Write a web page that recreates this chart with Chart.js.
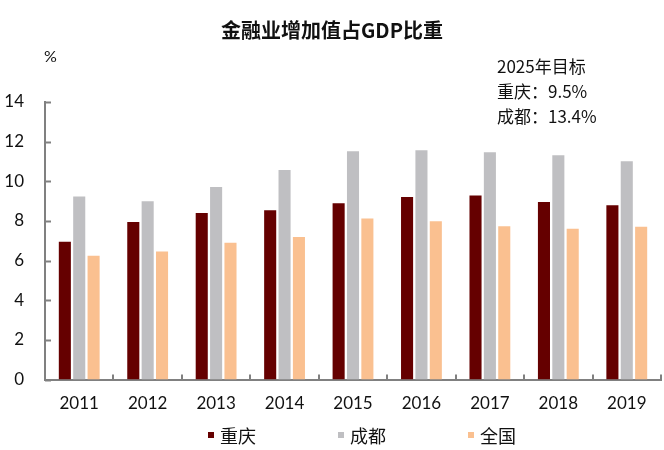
<!DOCTYPE html>
<html>
<head>
<meta charset="utf-8">
<script src="https://cdn.jsdelivr.net/npm/chart.js@4/dist/chart.umd.min.js"></script>
<style>
  html, body { margin: 0; padding: 0; background: #fff; }
  #wrap { width: 664px; height: 450px; }
</style>
</head>
<body>
<div id="wrap"><canvas id="tableau"></canvas></div>
<script>
const years = ['2011', '2012', '2013', '2014', '2015', '2016', '2017', '2018', '2019'];
const chongqing = [6.95, 7.95, 8.4, 8.54, 8.89, 9.21, 9.28, 8.96, 8.79];
const chengdu = [9.24, 9.0, 9.71, 10.57, 11.52, 11.57, 11.46, 11.31, 11.01];
const national = [6.25, 6.46, 6.9, 7.19, 8.12, 7.98, 7.73, 7.61, 7.71];
const seriesNames = ['重庆', '成都', '全国'];
const targetNotes = ['2025年目标', '重庆：9.5%', '成都：13.4%'];
const yMax = 14;
const yStep = 2;

const colors = ['#650000', '#BFBFC2', '#FAC090'];
const numFont = 'Lato, "Liberation Sans", sans-serif';
const cjkFont = '"Noto Sans CJK SC", sans-serif';

// ticks inside the axes, title, notes and legend
const extras = {
    id: 'extras',
    afterDraw(chart) {
        const ctx = chart.ctx;
        const x = chart.scales.x;
        const y = chart.scales.y;
        const area = chart.chartArea;
        ctx.save();
        ctx.strokeStyle = '#808080';
        ctx.lineWidth = 2;
        y.ticks.forEach(t => {
            const py = Math.round(y.getPixelForValue(t.value)) + 0.5;
            ctx.beginPath();
            ctx.moveTo(area.left, py);
            ctx.lineTo(area.left + 6, py);
            ctx.stroke();
        });
        const cw = (x.right - x.left) / years.length;
        for (let i = 1; i <= years.length; i++) {
            const px = Math.round(x.left + i * cw);
            ctx.beginPath();
            ctx.moveTo(px, area.bottom);
            ctx.lineTo(px, area.bottom - 5);
            ctx.stroke();
        }

        ctx.fillStyle = '#111';
        ctx.textBaseline = 'middle';
        ctx.textAlign = 'center';
        ctx.font = 'bold 20px ' + cjkFont;
        ctx.fillText('金融业增加值占GDP比重', 332, 30);

        ctx.textAlign = 'left';
        ctx.font = '16px ' + numFont;
        ctx.fillText('%', 44, 57);

        ctx.font = '17px ' + cjkFont;
        targetNotes.forEach((s, i) => ctx.fillText(s, 497, 67 + i * 25));

        ctx.font = '18px ' + cjkFont;
        seriesNames.forEach((s, i) => {
            const lx = 208 + i * 130;
            ctx.fillStyle = colors[i];
            ctx.fillRect(lx, 432, 6, 6);
            ctx.fillStyle = '#111';
            ctx.fillText(s, lx + 12, 436);
        });
        ctx.restore();
    }
};

new Chart(document.getElementById('tableau'), {
    type: 'bar',
    data: {
        labels: years,
        datasets: [
            { label: seriesNames[0], data: chongqing, backgroundColor: colors[0] },
            { label: seriesNames[1], data: chengdu, backgroundColor: colors[1] },
            { label: seriesNames[2], data: national, backgroundColor: colors[2] }
        ]
    },
    options: {
        responsive: true,
        maintainAspectRatio: false,
        animation: false,
        layout: { padding: { top: 102, right: 3, bottom: 22, left: 0 } },
        datasets: { bar: { categoryPercentage: 0.63, barPercentage: 0.84 } },
        plugins: {
            legend: { display: false },
            title: { display: false },
            tooltip: { enabled: false }
        },
        scales: {
            x: {
                grid: { display: false, drawTicks: false },
                border: { display: true, color: '#808080', width: 2 },
                ticks: { color: '#111', padding: 14, font: { family: numFont, size: 17 } }
            },
            y: {
                min: 0,
                max: yMax,
                afterFit(scale) { scale.width = 45; },
                grid: { display: false, drawTicks: false },
                border: { display: true, color: '#808080', width: 2 },
                ticks: { stepSize: yStep, color: '#111', padding: 21, font: { family: numFont, size: 17 } }
            }
        }
    },
    plugins: [extras]
});
</script>
</body>
</html>
